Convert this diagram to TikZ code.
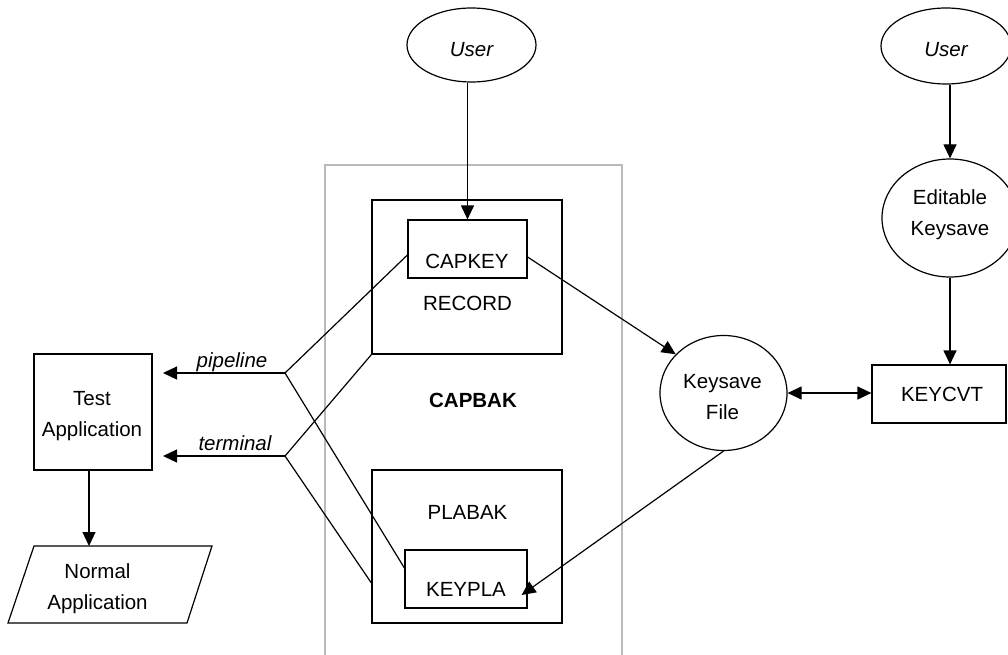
\documentclass[tikz,border=0pt]{standalone}
\usepackage{fontspec}
\setmainfont{Liberation Sans}
\usetikzlibrary{arrows.meta,shapes.geometric,fit,calc}
\begin{document}
\begin{tikzpicture}[x=1pt,y=-1pt,
  line width=1.2pt,
  box/.style={draw,rectangle,inner sep=0pt},
  oval/.style={draw,ellipse,inner sep=0pt},
  txt/.style={font=\fontsize{20.5}{31}\selectfont,align=center,inner sep=0pt},
  arr/.style={-{Triangle[length=14pt,width=13pt]}},
  darr/.style={{Triangle[length=14pt,width=13pt]}-{Triangle[length=14pt,width=13pt]}},
  frame/.style={draw=black!27,line width=1.5pt,inner sep=0pt}]
\useasboundingbox (0,0) rectangle (1008,655);
\clip (0,0) rectangle (1008,655);

% CAPBAK frame
\node[frame,fit={(325,165)(622,680)}] (capbak) {};
\node[txt,font=\fontsize{20.5}{31}\selectfont\bfseries] (capbakt) at (473,400) {CAPBAK};

% RECORD / CAPKEY
\node[box,fit={(372,200)(562,354)}] (record) {};
\node[txt] (recordt) at (467.5,303) {RECORD};
\node[box,fit={(408,220)(527,278)}] (capkey) {};
\node[txt] (capkeyt) at (467,261) {CAPKEY};

% PLABAK / KEYPLA
\node[box,fit={(372,470)(562,623)}] (plabak) {};
\node[txt] (plabakt) at (467.5,512) {PLABAK};
\node[box,fit={(405,550)(527,608)}] (keypla) {};
\node[txt] (keyplat) at (466,589) {KEYPLA};

% User (left)
\node[oval,minimum width=129pt,minimum height=74pt] (user1) at (471.5,45) {};
\node[txt,font=\fontsize{20.5}{31}\selectfont\itshape] (user1t) at (471.5,50) {User};

% Right column
\node[oval,minimum width=130pt,minimum height=76pt] (user2) at (946,46) {};
\node[txt,font=\fontsize{20.5}{31}\selectfont\itshape] (user2t) at (946,50) {User};
\node[oval,minimum width=136pt,minimum height=118pt] (edit) at (950,218) {};
\node[txt] (editt) at (950,215) {Editable\\Keysave};
\node[box,fit={(872,365)(1006,423)}] (keycvt) {};
\node[txt] (keycvtt) at (942,394) {KEYCVT};

% Keysave File
\node[oval,minimum width=127pt,minimum height=115pt] (keysave) at (723.5,393) {};
\node[txt] (keysavet) at (722.5,397.5) {Keysave\\File};

% Test Application
\node[box,fit={(34,354)(152,470)}] (testapp) {};
\node[txt] (testappt) at (92,416) {Test\\Application};

% Normal Application (parallelogram)
\coordinate (nA) at (34,546);
\coordinate (nB) at (212,546);
\coordinate (nC) at (187,623);
\coordinate (nD) at (8,623);
\draw (nA) -- (nB) -- (nC) -- (nD) -- cycle;
\coordinate (normtop) at (89,546);
\node[txt] (normalt) at (97.5,589) {Normal\\Application};

% pipeline / terminal junctions
\coordinate (pj) at (285,373);
\coordinate (tj) at (285,456);
\coordinate (pipetip) at (163,373);
\coordinate (termtip) at (163,456);
\node[txt,font=\fontsize{20.5}{31}\selectfont\itshape,anchor=base] (pipel) at (232,367) {pipeline};
\node[txt,font=\fontsize{20.5}{31}\selectfont\itshape,anchor=base] (terml) at (235,450) {terminal};

% connectors
\draw[arr] (capkey.north |- user1.south) -- (capkey.north);
\draw[arr] ($(capkey.east)+(0,8)$) -- (keysave.141);
\draw[arr] (keysave.south) -- ($(keypla.east)+(-6,16)$);
\draw[darr] (keysave.east) -- (keysave.east -| keycvt.west);
\draw[arr] (edit.north |- user2.south) -- (edit.north);
\draw[arr] (edit.south) -- (edit.south |- keycvt.north);
\draw[arr] (testapp.south -| normtop) -- (normtop);

\draw[arr] (pj) -- (pipetip);
\draw[arr] (tj) -- (termtip);
\draw (pj) -- ($(capkey.west)+(0,6)$);
\draw (pj) -- ($(keypla.west)+(0,-11)$);
\draw (tj) -- (record.south west);
\draw (tj) -- ($(plabak.west)+(0,36.5)$);
\end{tikzpicture}
\end{document}
